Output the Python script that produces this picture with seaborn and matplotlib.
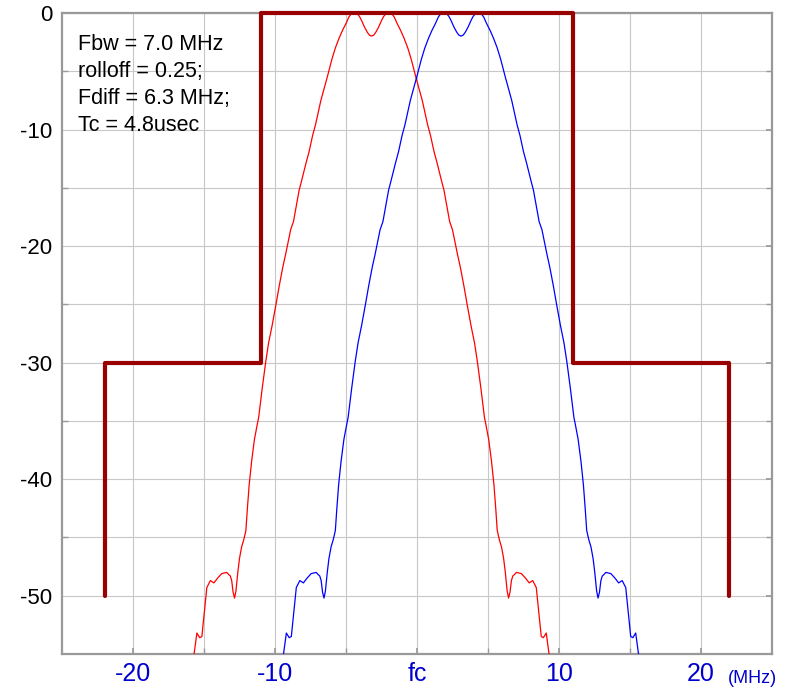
import numpy as np
import pandas as pd
import matplotlib
matplotlib.use("Agg")
import matplotlib.pyplot as plt
import seaborn as sns

# ---------------- data ----------------
# one-sided spectrum shape: offset from carrier centre (MHz) -> level (dB)
shape_offset_mhz = [0.0, 0.15, 0.3, 0.5, 0.7, 0.85, 1.0, 1.15, 1.3, 1.45, 1.6, 1.8, 2.05,
                    2.3, 2.55, 2.8, 3.12,
                    3.57, 3.95, 4.15, 4.4, 4.6, 4.95, 5.1, 5.5, 5.7, 6.05, 6.25,
                    6.5, 6.73, 7.0, 7.25, 7.45, 7.7, 7.95, 8.05, 8.25, 8.45, 8.62,
                    8.75, 8.85, 9.0, 9.15, 9.3, 9.42, 9.55, 9.65, 9.75, 9.85,
                    9.95, 10.05, 10.2, 10.55, 10.85, 11.1, 11.35, 11.6, 11.8,
                    11.95, 12.1, 12.3, 12.5, 12.7]
shape_db = [-1.98, -1.9, -1.65, -1.2, -0.65, -0.3, -0.08, 0.0, 0.0, -0.1, -0.35, -0.9, -1.5,
            -2.2, -3.0, -4.0, -5.5,
            -7.5, -9.6, -10.5, -11.9, -12.8, -14.5, -15.2, -17.9, -18.6, -20.7, -21.8,
            -23.4, -25.0, -26.8, -28.3, -29.9, -32.2, -34.7, -35.3, -36.6, -38.5, -40.5,
            -42.6, -44.4, -45.2, -45.8, -46.8, -48.0, -49.6, -50.2, -49.7, -48.7,
            -48.3, -48.2, -48.0, -48.1, -48.5, -48.9, -48.7, -49.3, -51.7,
            -53.5, -53.6, -53.2, -55.0, -57.5]
carrier_centers_mhz = [-3.2, 3.1]          # red, blue
carrier_colors = ["#ff0000", "#0000ff"]

mask_freq = [-22, -22, -11, -11, 11, 11, 22, 22]
mask_db = [-50, -30, -30, 0, 0, -30, -30, -50]

xtick_pos = [-20, -10, 0, 10, 20]
xtick_labels = ["-20", "-10", "fc", "10", "20"]
ytick_pos = [0, -10, -20, -30, -40, -50]
ytick_labels = ["0", "-10", "-20", "-30", "-40", "-50"]

info_lines = ["Fbw = 7.0 MHz", "rolloff = 0.25;", "Fdiff = 6.3 MHz;", "Tc = 4.8usec"]

# ---------------- figure ----------------
sns.set_theme(style="white")
plt.rcParams["font.family"] = ["Liberation Sans", "DejaVu Sans"]

fig = plt.figure(figsize=(7.96, 6.89), dpi=100)
ax = fig.add_axes([62 / 796, 1 - 654 / 689, 710 / 796, 641 / 689])

off = np.array(shape_offset_mhz)
lvl = np.array(shape_db)
full_off = np.concatenate([-off[::-1], off[1:]])
full_lvl = np.concatenate([lvl[::-1], lvl[1:]])

for c, col in zip(carrier_centers_mhz, carrier_colors):
    df = pd.DataFrame({"f": c + full_off, "db": full_lvl})
    sns.lineplot(data=df, x="f", y="db", ax=ax, color=col, linewidth=0.9,
                 estimator=None, sort=False, zorder=3)

mdf = pd.DataFrame({"f": mask_freq, "db": mask_db})
sns.lineplot(data=mdf, x="f", y="db", ax=ax, color="#990000", linewidth=3.0,
             estimator=None, sort=False, zorder=5, clip_on=False)

ax.set_xlim(-25, 25)
ax.set_ylim(-55, 0)
ax.set_xlabel("")
ax.set_ylabel("")

ax.set_xticks(xtick_pos)
ax.set_xticklabels(xtick_labels)
ax.set_xticks([-15, -5, 5, 15], minor=True)
ax.set_yticks(ytick_pos)
ax.set_yticklabels(ytick_labels)
ax.set_yticks([-5, -15, -25, -35, -45], minor=True)

ax.grid(True, which="both", color="#c8c8c8", linewidth=0.8)
ax.set_axisbelow(True)

ax.tick_params(axis="x", which="both", direction="in", length=4, color="#999999",
               labelsize=18, labelcolor="#0000cc", pad=6)
ax.tick_params(axis="y", which="both", direction="in", length=4, color="#999999",
               labelsize=16, labelcolor="black", pad=7, right=True)
ax.tick_params(axis="x", which="both", bottom=True)
ax.tick_params(axis="y", which="minor", left=True, right=True)

for s in ax.spines.values():
    s.set_visible(True)
    s.set_color("#999999")
    s.set_linewidth(1.6)

ax.text(0.0225, 0.968, "\n".join(info_lines), transform=ax.transAxes,
        ha="left", va="top", fontsize=15.5, color="black", linespacing=1.38, zorder=6)

ax.text(23.6, -57.1, "(MHz)", ha="center", va="center", fontsize=13,
        color="#0000cc", clip_on=False)

fig.savefig("out.png", dpi=100)
